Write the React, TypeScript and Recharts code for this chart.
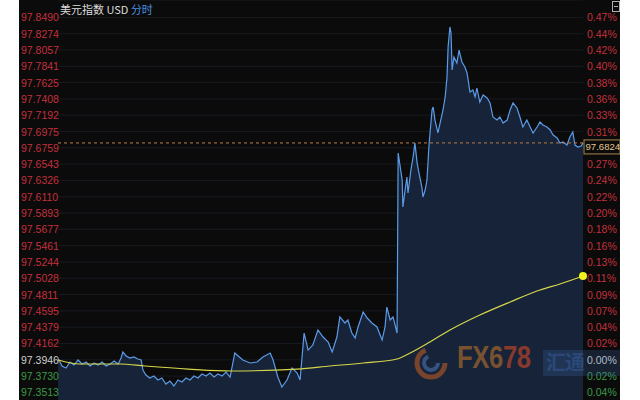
import { ComposedChart, Area, Line, XAxis, YAxis, CartesianGrid, ReferenceLine, ReferenceDot } from "recharts";

const PREV_CLOSE = 97.3946;
const LAST_PRICE = 97.6824;
const Y_DOMAIN = [97.3412, 97.8721];
const Y_TICKS = [
  97.849, 97.8274, 97.8057, 97.7841, 97.7625, 97.7408, 97.7192, 97.6975, 97.6759, 97.6543, 97.6326, 97.611,
  97.5893, 97.5677, 97.5461, 97.5244, 97.5028, 97.4811, 97.4595, 97.4379, 97.4162, 97.3946, 97.373, 97.3513,
];

// [minute of session, price]
const PRICE_POINTS: [number, number][] = [
  [0, 97.3969], [11, 97.3863], [22, 97.3837], [33, 97.3916], [44, 97.3876], [55, 97.3943], [66, 97.389],
  [77, 97.3916], [88, 97.3863], [99, 97.3903], [110, 97.3876], [121, 97.3916], [132, 97.3863], [143, 97.389],
  [154, 97.3929], [165, 97.389], [173, 97.3969], [178, 97.4049], [187, 97.3996], [197, 97.3969], [208, 97.3983],
  [219, 97.3956], [228, 97.3943], [233, 97.381], [241, 97.3744], [252, 97.3704], [263, 97.373], [274, 97.3677],
  [285, 97.3704], [296, 97.3624], [307, 97.3664], [318, 97.3598], [329, 97.3677], [340, 97.3651], [351, 97.3704],
  [362, 97.3677], [373, 97.373], [384, 97.3704], [395, 97.3757], [406, 97.373], [417, 97.377], [428, 97.3717],
  [439, 97.3757], [450, 97.373], [461, 97.3783], [472, 97.3717], [485, 97.4036], [491, 97.4009], [507, 97.3943],
  [527, 97.3903], [546, 97.3916], [562, 97.3983], [582, 97.4036], [590, 97.3943], [603, 97.3717], [614, 97.3584],
  [628, 97.3677], [642, 97.3837], [656, 97.377], [664, 97.3677], [675, 97.4301], [686, 97.4075], [699, 97.4142],
  [713, 97.4341], [727, 97.4248], [741, 97.4182], [752, 97.4049], [765, 97.4248], [773, 97.4514], [787, 97.4434],
  [795, 97.4474], [806, 97.4301], [815, 97.4235], [823, 97.4381], [837, 97.458], [848, 97.45], [861, 97.4434],
  [875, 97.4381], [889, 97.4208], [897, 97.4381], [902, 97.4646], [911, 97.4474], [919, 97.4514], [930, 97.4301],
  [933, 97.669], [944, 97.6332], [946, 97.5974], [952, 97.6199], [957, 97.6372], [960, 97.6159], [968, 97.6465],
  [974, 97.6637], [979, 97.6823], [985, 97.6558], [990, 97.6425], [998, 97.6239], [1001, 97.6106], [1007, 97.6199],
  [1012, 97.6332], [1018, 97.6823], [1026, 97.7261], [1029, 97.7301], [1034, 97.7128], [1042, 97.6956],
  [1048, 97.7088], [1056, 97.7261], [1062, 97.7434], [1067, 97.7699], [1070, 97.8097], [1075, 97.8363],
  [1078, 97.8283], [1081, 97.7792], [1086, 97.7964], [1094, 97.7885], [1100, 97.8057], [1108, 97.7898],
  [1116, 97.7832], [1122, 97.7752], [1130, 97.75], [1138, 97.7526], [1144, 97.7434], [1149, 97.7553],
  [1157, 97.7367], [1166, 97.746], [1177, 97.742], [1185, 97.7354], [1193, 97.7168], [1204, 97.7128],
  [1212, 97.7168], [1221, 97.7088], [1232, 97.7128], [1240, 97.7261], [1248, 97.7354], [1259, 97.7288],
  [1267, 97.7168], [1275, 97.7035], [1286, 97.7128], [1295, 97.7035], [1303, 97.6956], [1314, 97.7035],
  [1322, 97.7102], [1330, 97.7062], [1341, 97.7035], [1350, 97.6996], [1358, 97.6929], [1369, 97.6889],
  [1377, 97.6823], [1385, 97.6836], [1396, 97.6796], [1404, 97.6903], [1412, 97.6969], [1418, 97.6796],
  [1426, 97.677], [1435, 97.6783], [1440, 97.6824],
];

// [minute of session, average price]
const AVG_POINTS: [number, number][] = [
  [0, 97.3943], [60, 97.389], [170, 97.389], [239, 97.3863], [357, 97.3823], [477, 97.3797], [656, 97.3823],
  [746, 97.3863], [837, 97.3903], [930, 97.3956], [966, 97.4036], [1020, 97.4182], [1075, 97.4341],
  [1157, 97.454], [1240, 97.4713], [1322, 97.4872], [1377, 97.4952], [1440, 97.5058],
];

const byTime = new Map<number, { t: number; price?: number; avg?: number }>();
PRICE_POINTS.forEach(([t, p]) => byTime.set(t, { ...(byTime.get(t) || { t }), price: p }));
AVG_POINTS.forEach(([t, a]) => byTime.set(t, { ...(byTime.get(t) || { t }), avg: a }));
const rows = [...byTime.values()].sort((a, b) => a.t - b.t);
const lastAvg = AVG_POINTS[AVG_POINTS.length - 1];

const FONT = "'Liberation Sans', Arial, sans-serif";

function tickColor(v: number) {
  if (Math.abs(v - PREV_CLOSE) < 1e-6) return "#cfcfcf";
  return v > PREV_CLOSE ? "#c4303c" : "#3c9a48";
}

// price on the left edge, change vs previous close on the right edge
// (the right label sitting under the last-price tag is covered, as in the terminal)
function PriceTick({ y, payload }: any) {
  const v = payload.value as number;
  const pct = Math.abs(((v - PREV_CLOSE) / PREV_CLOSE) * 100).toFixed(2);
  const c = tickColor(v);
  const covered = Math.abs(v - LAST_PRICE) < 0.012;
  return (
    <g>
      <text x={2} y={y} fill={c} fontSize={10.5} fontFamily={FONT} dominantBaseline="central">
        {v.toFixed(4)}
      </text>
      {!covered && (
        <text x={568} y={y} fill={c} fontSize={10.5} fontFamily={FONT} dominantBaseline="central">
          {pct}%
        </text>
      )}
    </g>
  );
}

function PriceTag({ viewBox }: any) {
  const x = viewBox.x + viewBox.width + 1;
  const y = viewBox.y;
  return (
    <g>
      <rect x={x} y={y - 3} width={36} height={14} fill="#0b0b0b" stroke="#a8864f" strokeWidth={1} />
      <text x={x + 1.5} y={y + 4} fill="#e2c690" fontSize={9.6} fontFamily={FONT} dominantBaseline="central">
        {LAST_PRICE.toFixed(4)}
      </text>
    </g>
  );
}

export default function App() {
  return (
    <div style={{ position: "relative", width: 640, height: 400, background: "#fff", overflow: "hidden" }}>
      <style>{`body{margin:0}`}</style>
      <div style={{ position: "absolute", left: 19, top: 0, width: 601, height: 400, background: "#0b0b0b" }}>
        <ComposedChart width={601} height={400} data={rows} margin={{ top: 0, right: 37, bottom: 0, left: 0 }}>
          <CartesianGrid horizontal vertical={false} stroke="#171b21" />
          <XAxis dataKey="t" type="number" domain={[0, 1440]} hide />
          <YAxis
            orientation="left"
            width={39}
            domain={Y_DOMAIN}
            ticks={Y_TICKS}
            interval={0}
            axisLine={false}
            tickLine={false}
            tick={PriceTick}
          />
          <Area
            type="linear"
            dataKey="price"
            stroke="#5b9be8"
            strokeWidth={1.2}
            fill="#162338"
            fillOpacity={1}
            connectNulls
            dot={false}
            activeDot={false}
            isAnimationActive={false}
          />
          <Line
            type="monotone"
            dataKey="avg"
            stroke="#d6d64a"
            strokeWidth={1.2}
            connectNulls
            dot={false}
            activeDot={false}
            isAnimationActive={false}
          />
          <ReferenceDot x={lastAvg[0]} y={lastAvg[1]} r={4} fill="#f2f21e" stroke="none" />
          <ReferenceLine y={LAST_PRICE} stroke="#c07e42" strokeDasharray="3 3" label={PriceTag} />
        </ComposedChart>
      </div>
      <div style={{ position: "absolute", left: 60, top: 2, fontSize: 11, fontFamily: "'Noto Sans CJK SC', 'Noto Sans', sans-serif", color: "#dcdcdc", lineHeight: "14px" }}>
        美元指数 USD <span style={{ color: "#4a8fe0" }}>分时</span>
      </div>
      <svg style={{ position: "absolute", left: 612, top: 1 }} width={9} height={11}>
        <rect x={0.5} y={0.5} width={7} height={10} fill="none" stroke="#b0b0b0" />
        <line x1={2} y1={5.5} x2={6} y2={5.5} stroke="#b0b0b0" />
      </svg>
      <div style={{ position: "absolute", left: 0, top: 0, width: 640, height: 400, pointerEvents: "none", opacity: 0.85 }}>
        <svg style={{ position: "absolute", left: 413, top: 345 }} width={36} height={36}>
          <circle cx={18} cy={18} r={14} fill="none" stroke="#8a4a2a" strokeWidth={5} strokeDasharray="60 30" />
          <circle cx={18} cy={18} r={7} fill="none" stroke="#3c5c8c" strokeWidth={4} strokeDasharray="30 14" />
        </svg>
        <div style={{ position: "absolute", left: 457, top: 340, fontSize: 31, fontWeight: "bold", fontFamily: FONT, color: "#8a5a2e", transform: "scaleX(0.83)", transformOrigin: "left top", letterSpacing: -0.5 }}>
          FX6<span style={{ color: "#9a3e2a" }}>78</span>
        </div>
        <div style={{ position: "absolute", left: 543, top: 350, width: 77, height: 26, background: "rgba(70,110,180,0.28)" }} />
        <div style={{ position: "absolute", left: 546, top: 349, fontSize: 20, fontWeight: "bold", fontFamily: "'Noto Sans CJK SC', sans-serif", color: "rgba(60,105,175,0.5)", lineHeight: "26px", letterSpacing: -1 }}>
          汇通
        </div>
      </div>
    </div>
  );
}
